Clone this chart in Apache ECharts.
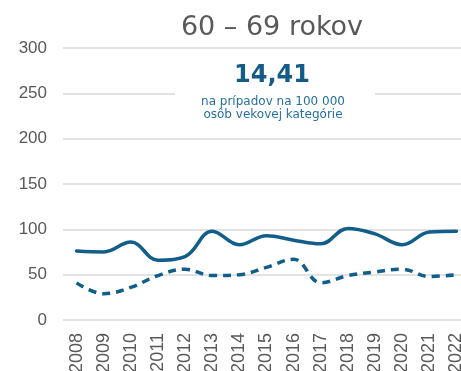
<!DOCTYPE html>
<html>
<head>
<meta charset="utf-8">
<script src="https://cdn.jsdelivr.net/npm/echarts@6/dist/echarts.min.js"></script>
<style>
  html, body { margin: 0; padding: 0; background: #ffffff; }
  #chart { width: 461px; height: 371px; }
</style>
</head>
<body>
<div id="chart"></div>
<script>
// Years on the category axis
const years = ['2008', '2009', '2010', '2011', '2012', '2013', '2014', '2015',
               '2016', '2017', '2018', '2019', '2020', '2021', '2022'];

// Solid series
const solidValues = [76, 75, 86, 66, 70, 98, 83, 93, 88, 84, 101, 95, 83, 97, 98];

// Dashed series
const dashedValues = [41, 29, 36, 49, 56, 49, 50, 58, 67, 41, 49, 53, 56, 48, 50];

// Y-axis ticks
const yTicks = [0, 50, 100, 150, 200, 250, 300];

const titleText = '60 – 69 rokov';
const headlineValue = '14,41';
const headlineNote = ['na prípadov na 100 000', 'osôb vekovej kategórie'];

const lineColor = '#125e8a';

const chart = echarts.init(document.getElementById('chart'), null, { renderer: 'canvas' });

chart.setOption({
  animation: false,
  backgroundColor: '#ffffff',
  title: {
    text: titleText,
    left: 267,
    top: 9,
    textAlign: 'center',
    textStyle: {
      fontFamily: 'DejaVu Sans',
      fontWeight: 'normal',
      fontSize: 27,
      color: '#595959'
    }
  },
  grid: {
    left: 63, right: -9, top: 48, bottom: 51,
    containLabel: false,
    outerBoundsMode: 'none'
  },
  xAxis: {
    type: 'category',
    data: years,
    boundaryGap: true,
    axisLine: { show: false },
    axisTick: { show: false },
    axisLabel: {
      rotate: 90,
      margin: 13,
      fontFamily: 'Liberation Sans',
      fontSize: 18,
      color: '#595959'
    }
  },
  yAxis: {
    type: 'value',
    min: yTicks[0],
    max: yTicks[yTicks.length - 1],
    interval: yTicks[1] - yTicks[0],
    axisLine: { show: false },
    axisTick: { show: false },
    axisLabel: {
      margin: 16,
      fontFamily: 'Liberation Sans',
      fontSize: 17,
      color: '#595959'
    },
    splitLine: { lineStyle: { color: '#d9d9d9', width: 1.5 } }
  },
  series: [
    {
      type: 'line',
      data: solidValues,
      smooth: 0.4,
      symbol: 'none',
      lineStyle: { color: lineColor, width: 3.5, cap: 'round' },
      z: 3
    },
    {
      type: 'line',
      data: dashedValues,
      smooth: 0.4,
      symbol: 'none',
      lineStyle: { color: lineColor, width: 3.5, type: [8, 6] },
      z: 3
    }
  ],
  graphic: [
    {
      type: 'rect',
      shape: { x: 175, y: 56, width: 200, height: 70 },
      style: { fill: '#ffffff' },
      z: 10
    },
    {
      type: 'text',
      x: 272,
      y: 76,
      z: 11,
      style: {
        text: headlineValue,
        fontFamily: 'DejaVu Sans',
        fontWeight: 'bold',
        fontSize: 24,
        fill: '#145c87',
        align: 'center',
        verticalAlign: 'middle'
      }
    },
    {
      type: 'text',
      x: 273,
      y: 95,
      z: 11,
      style: {
        text: headlineNote.join('\n'),
        fontFamily: 'DejaVu Sans',
        fontSize: 12,
        lineHeight: 13,
        fill: '#2570a0',
        align: 'center',
        verticalAlign: 'top'
      }
    }
  ]
});
</script>
</body>
</html>
